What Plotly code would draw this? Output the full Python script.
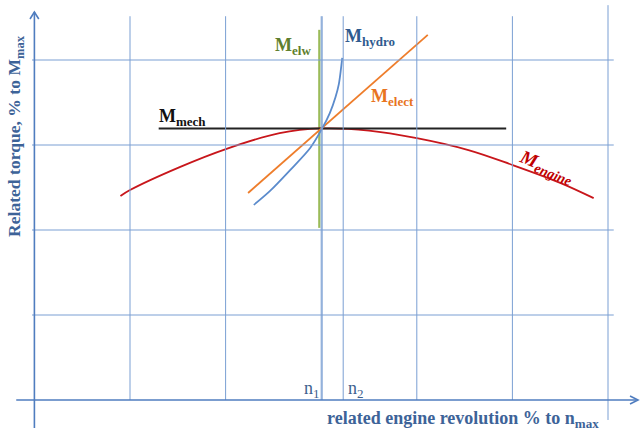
import plotly.graph_objects as go

# Revolution in % of n_max, torque in % of M_max
engine_n = [18, 20, 30.4, 40.2, 51.3, 60, 70, 80, 90.8, 100, 110, 117]
engine_m = [48.0, 49.4, 54.8, 59.1, 62.8, 63.9, 63.4, 61.6, 58.8, 55.3, 51.1, 47.5]

mech_n = [26, 98.7]
mech_m = [63.9, 63.9]

elect_n = [44.7, 82.3]
elect_m = [48.7, 85.9]

hydro_n = [45.9, 49.3, 53.5, 57.7, 60.2, 61.8, 63.0, 63.7, 64.1, 64.4]
hydro_m = [45.9, 49.2, 54.1, 59.3, 63.9, 67.5, 71.3, 74.4, 77.6, 80.5]

elw_n = [59.6, 59.6]
elw_m = [40.5, 87.1]

n1, n2 = 60.2, 64.6
grid_n = [20, 40, 60, 80, 100]
grid_m = [20, 40, 60, 80]

# axis scaling (pixels per unit) so the frame fills the page
PX_N, N0 = 4.78, 34.4
PX_M, M0 = 4.25, 400
W, H = 640, 430
x_range = [-N0 / PX_N, (W - N0) / PX_N]
y_range = [(M0 - H) / PX_M, M0 / PX_M]

GRID = "#7A9FD3"
AXIS = "#4F7DBF"
TITLE = "#3D6398"
SERIF = "Liberation Serif, Times New Roman, serif"

fig = go.Figure()

shapes = []
for g in grid_n:
    shapes.append(dict(type="line", xref="x", yref="y", x0=g, x1=g, y0=0, y1=90.3,
                       line=dict(color=GRID, width=1)))
shapes.append(dict(type="line", xref="x", yref="y", x0=120, x1=120, y0=-4.7, y1=92.9,
                   line=dict(color=GRID, width=1)))
for nv in (n1, n2):
    shapes.append(dict(type="line", xref="x", yref="y", x0=nv, x1=nv, y0=0, y1=90.3,
                       line=dict(color=GRID, width=1)))
for g in grid_m:
    shapes.append(dict(type="line", xref="x", yref="y", x0=-0.5, x1=121.2, y0=g, y1=g,
                       line=dict(color=GRID, width=1)))

# axes with open arrowheads
shapes.append(dict(type="line", xref="x", yref="y", x0=-3.8, x1=126.0, y0=0, y1=0,
                   line=dict(color=AXIS, width=1.6)))
shapes.append(dict(type="line", xref="x", yref="y", x0=0, x1=0, y0=-6.6, y1=91.3,
                   line=dict(color=AXIS, width=1.6)))
shapes.append(dict(type="path", xref="paper", yref="paper",
                   path="M {:.4f},{:.4f} L {:.4f},{:.4f} L {:.4f},{:.4f}".format(
                       30 / W, 1 - 19 / H, 34.4 / W, 1 - 12 / H, 38.8 / W, 1 - 19 / H),
                   line=dict(color=AXIS, width=1.6)))
shapes.append(dict(type="path", xref="paper", yref="paper",
                   path="M {:.4f},{:.4f} L {:.4f},{:.4f} L {:.4f},{:.4f}".format(
                       630 / W, 1 - 396 / H, 638 / W, 1 - 400 / H, 630 / W, 1 - 404 / H),
                   line=dict(color=AXIS, width=1.6)))

fig.add_trace(go.Scatter(x=elw_n, y=elw_m, mode="lines",
                         line=dict(color="#9BBB59", width=2.2)))
fig.add_trace(go.Scatter(x=engine_n, y=engine_m, mode="lines",
                         line=dict(color="#C8161B", width=1.8, shape="spline", smoothing=1.0)))
fig.add_trace(go.Scatter(x=mech_n, y=mech_m, mode="lines",
                         line=dict(color="#222222", width=2)))
fig.add_trace(go.Scatter(x=elect_n, y=elect_m, mode="lines",
                         line=dict(color="#EE7D2B", width=1.8)))
fig.add_trace(go.Scatter(x=hydro_n, y=hydro_m, mode="lines",
                         line=dict(color="#5B8BCC", width=1.8, shape="spline", smoothing=0.8)))


def sub(main, low, low_size):
    return '{}<sub><span style="font-size:{}px">{}</span></sub>'.format(main, low_size, low)


def px_note(text, x, y, color, size, angle=0, bold=True, italic=False):
    if italic:
        text = "<i>" + text + "</i>"
    if bold:
        text = "<b>" + text + "</b>"
    return dict(text=text, xref="paper", yref="paper", x=x / W, y=1 - y / H,
                xanchor="center", yanchor="middle", showarrow=False, textangle=angle,
                font=dict(family=SERIF, size=size, color=color))


annotations = [
    px_note(sub("M", "mech", 13), 182, 117, "#111111", 18),
    px_note(sub("M", "elw", 13), 293, 46, "#5F7F2E", 18),
    px_note(sub("M", "hydro", 13), 370, 37, "#2F5B8F", 18),
    px_note(sub("M", "elect", 13), 392, 98, "#E8741E", 18),
    px_note(sub("M", "engine", 14), 546, 167, "#C00000", 19, angle=22, italic=True),
    px_note(sub("n", "1", 13), 312, 389, "#3D5F8E", 18, bold=False),
    px_note(sub("n", "2", 13), 356, 389, "#3D5F8E", 18, bold=False),
    px_note("related engine revolution % to " + sub("n", "max", 13), 463, 419, TITLE, 18),
    px_note("Related torque, % to " + sub("M", "max", 12.5), 16, 136, TITLE, 17.6, angle=-90),
]

fig.update_layout(
    width=W, height=H, margin=dict(l=0, r=0, t=0, b=0),
    paper_bgcolor="white", plot_bgcolor="white", showlegend=False,
    xaxis=dict(range=x_range, visible=False, fixedrange=True),
    yaxis=dict(range=y_range, visible=False, fixedrange=True),
    shapes=shapes, annotations=annotations,
)

fig.write_html("out.html")
